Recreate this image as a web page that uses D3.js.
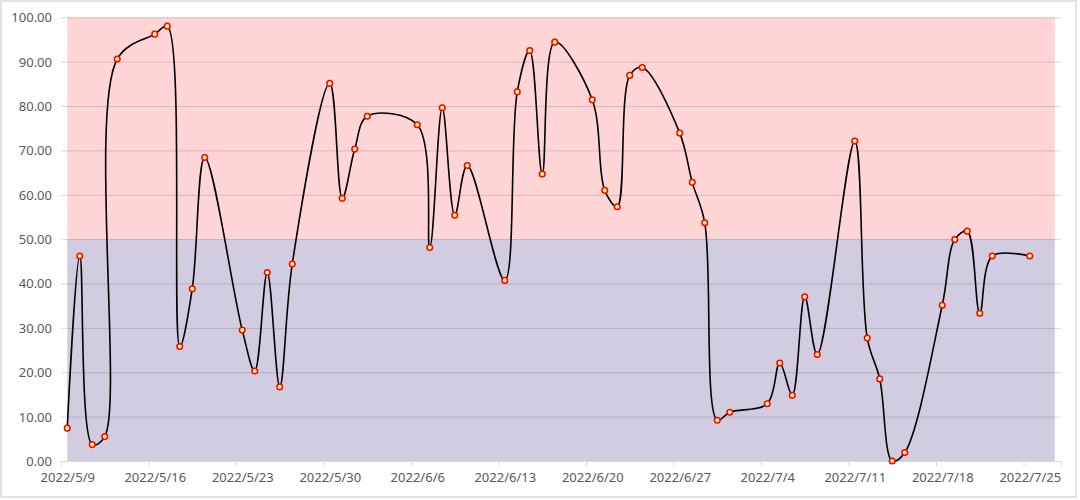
<!DOCTYPE html>
<html>
<head>
<meta charset="utf-8">
<script src="https://cdn.jsdelivr.net/npm/d3@7/dist/d3.min.js"></script>
<style>
  html, body { margin: 0; padding: 0; background: #fff; }
  svg { display: block; }
  .tick text { font-family: "Noto Sans", sans-serif; font-size: 13px; fill: #595959; }
</style>
</head>
<body>
<svg id="chart" width="1080" height="500"></svg>
<script>
// ---- data ----
const dates = ["2022-05-09","2022-05-10","2022-05-11","2022-05-12","2022-05-13",
  "2022-05-16","2022-05-17","2022-05-18","2022-05-19","2022-05-20",
  "2022-05-23","2022-05-24","2022-05-25","2022-05-26","2022-05-27",
  "2022-05-30","2022-05-31","2022-06-01","2022-06-02",
  "2022-06-06","2022-06-07","2022-06-08","2022-06-09","2022-06-10",
  "2022-06-13","2022-06-14","2022-06-15","2022-06-16","2022-06-17",
  "2022-06-20","2022-06-21","2022-06-22","2022-06-23","2022-06-24",
  "2022-06-27","2022-06-28","2022-06-29","2022-06-30","2022-07-01",
  "2022-07-04","2022-07-05","2022-07-06","2022-07-07","2022-07-08",
  "2022-07-11","2022-07-12","2022-07-13","2022-07-14","2022-07-15",
  "2022-07-18","2022-07-19","2022-07-20","2022-07-21","2022-07-22",
  "2022-07-25"];
const values = [7.4, 46.2, 3.7, 5.5, 90.6,
  96.2, 98.0, 25.8, 38.8, 68.4,
  29.5, 20.3, 42.5, 16.7, 44.4,
  85.1, 59.2, 70.3, 77.7,
  75.8, 48.1, 79.6, 55.4, 66.6,
  40.7, 83.2, 92.5, 64.7, 94.4,
  81.4, 61.0, 57.3, 86.9, 88.7,
  73.9, 62.8, 53.7, 9.2, 11.0,
  12.9, 22.1, 14.8, 37.0, 24.0,
  72.1, 27.7, 18.5, 0.0, 1.9,
  35.1, 49.9, 51.8, 33.3, 46.2,
  46.2];
// background bands (low band / high band)
const bandLow = [0, 50];
const bandHigh = [50, 100];
const bandDates = ["2022-05-09", "2022-07-27"];
// axes
const xDomain = ["2022-05-09", "2022-07-28"];
const yTicks = [0, 10, 20, 30, 40, 50, 60, 70, 80, 90, 100];

// ---- layout ----
const svg = d3.select("#chart");
const parse = d3.utcParse("%Y-%m-%d");
const halfDay = 12 * 3600 * 1000;
const mLeft = 61, mRight = 1061, mTop = 17.3, mBottom = 461;

const x = d3.scaleUtc().domain(xDomain.map(parse)).range([mLeft, mRight]);
const y = d3.scaleLinear().domain([0, 100]).range([mBottom, mTop]);
const xc = d => x(new Date(parse(d).getTime() + halfDay));

// outer border
svg.append("rect").attr("x", 1).attr("y", 1).attr("width", 1075).attr("height", 496)
  .attr("fill", "#fff").attr("stroke", "#d9d9d9").attr("stroke-width", 1.5);

// gridlines
const grid = svg.append("g").attr("transform", `translate(${mLeft},0)`)
  .call(d3.axisLeft(y).tickValues(yTicks).tickSize(-(mRight - mLeft)).tickFormat(""));
grid.select(".domain").remove();
grid.selectAll("line").attr("stroke", "#d9d9d9").attr("stroke-width", 1);

// background bands (semi-transparent, above the grid like in the original)
const bx0 = xc(bandDates[0]), bx1 = xc(bandDates[1]);
svg.append("rect").attr("x", bx0).attr("width", bx1 - bx0)
  .attr("y", y(bandHigh[1])).attr("height", y(bandHigh[0]) - y(bandHigh[1]))
  .attr("fill", "#ff0000").attr("fill-opacity", 0.165);
svg.append("rect").attr("x", bx0).attr("width", bx1 - bx0)
  .attr("y", y(bandLow[1])).attr("height", y(bandLow[0]) - y(bandLow[1]))
  .attr("fill", "#473383").attr("fill-opacity", 0.25);

// y axis labels
const yAxis = svg.append("g").attr("transform", `translate(${mLeft - 9},0)`)
  .call(d3.axisLeft(y).tickValues(yTicks).tickSize(0).tickFormat(d3.format(".2f")));
yAxis.select(".domain").remove();
yAxis.selectAll("text").attr("x", 0).attr("dy", "0.34em");

// x axis
const mondays = d3.utcMonday.range(parse(xDomain[0]), parse(xDomain[1]));
const xAxis = svg.append("g").attr("transform", `translate(0,${mBottom})`)
  .call(d3.axisBottom(x).tickValues(mondays.concat([parse(xDomain[1])]))
    .tickSize(5).tickFormat((d, i) => i < mondays.length ? d3.utcFormat("%Y/%-m/%-d")(d) : ""));
xAxis.select(".domain").attr("stroke", "#d9d9d9").attr("d", `M${mLeft},0.5H${mRight}`);
xAxis.selectAll("line").attr("stroke", "#d9d9d9");
xAxis.selectAll("text").attr("x", x(new Date(parse(xDomain[0]).getTime() + halfDay)) - mLeft).attr("y", 12);

// line
const pts = dates.map((d, i) => [xc(d), y(values[i])]);
svg.append("path")
  .attr("d", d3.line().curve(d3.curveCatmullRom.alpha(0.5))(pts))
  .attr("fill", "none").attr("stroke", "#000").attr("stroke-width", 1.6);

// markers
svg.append("g").selectAll("circle").data(pts).join("circle")
  .attr("cx", d => d[0]).attr("cy", d => d[1]).attr("r", 2.8)
  .attr("fill", "#ffff90").attr("stroke", "#ff0000").attr("stroke-width", 1.5);
</script>
</body>
</html>
